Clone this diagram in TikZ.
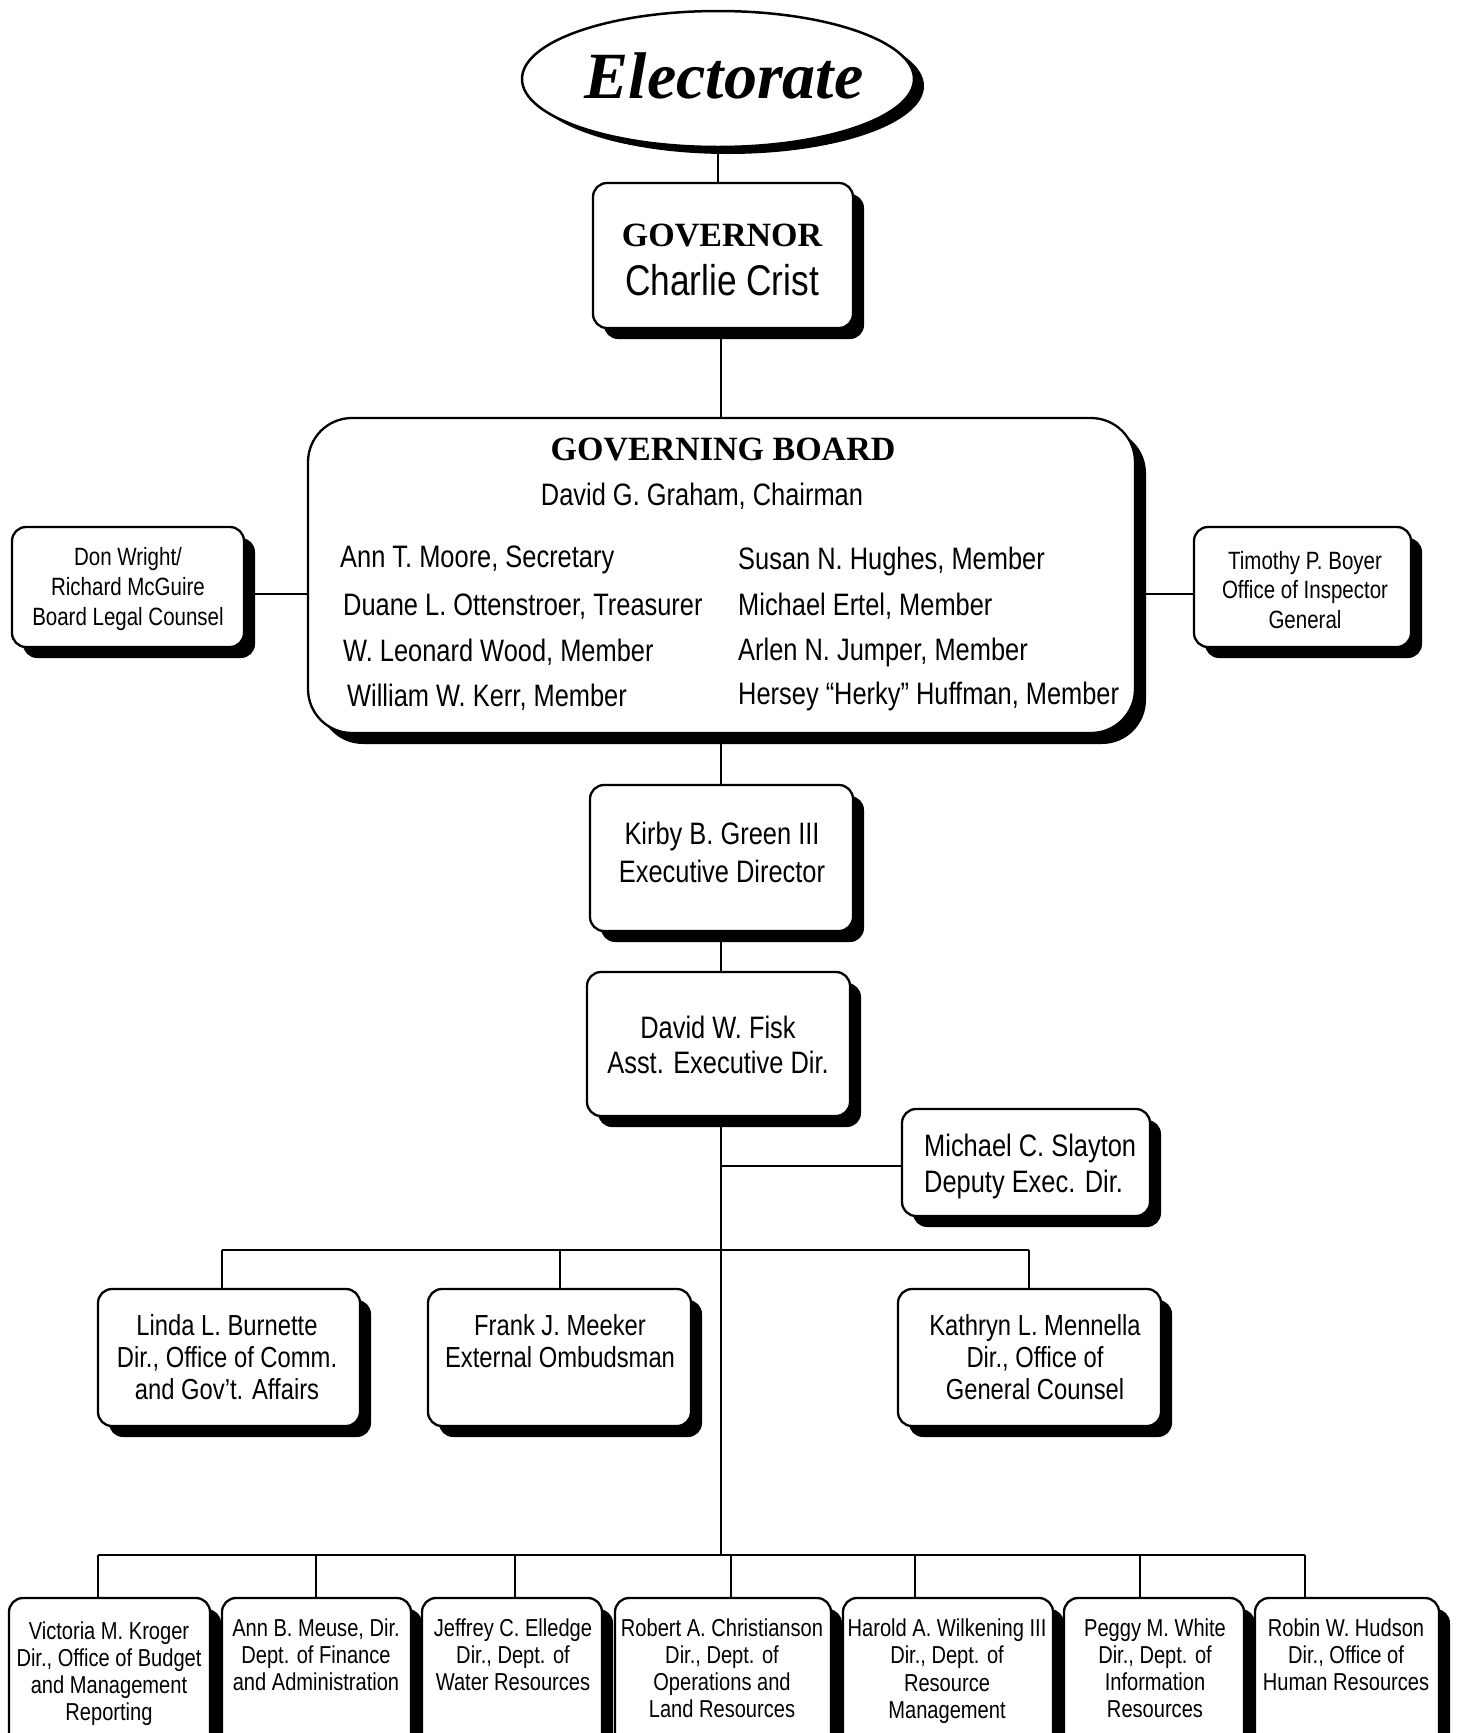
\documentclass[tikz,border=0pt]{standalone}
\usepackage{fontspec}
\setmainfont{Liberation Sans}[FakeStretch=0.82]
\newfontfamily\hdfont{Liberation Serif}
\usetikzlibrary{shapes.geometric,shadows}
\begin{document}
\begin{tikzpicture}[x=1pt,y=-1pt,
  box/.style={draw, line width=2.3pt, fill=white, rounded corners=14pt, inner sep=0pt,
    drop shadow={shadow xshift=11pt,shadow yshift=-11pt,fill=black,opacity=1}},
  conn/.style={line width=2pt},
  txt/.style={align=center, inner sep=0pt, anchor=base},
  ltxt/.style={align=left, inner sep=0pt, anchor=base west},
  fs/.style 2 args={font=\fontsize{#1}{#2}\selectfont}]
\useasboundingbox (0,0) rectangle (1458,1733);
\clip (0,0) rectangle (1458,1733);
\fill[white] (0,0) rectangle (1458,1733);

% Electorate
\node[ellipse, draw, line width=2.5pt, fill=white, minimum width=392pt, minimum height=136pt, inner sep=0pt,
  drop shadow={shadow xshift=10pt,shadow yshift=-7pt,fill=black,opacity=1}] (elect) at (718,79) {};
\node[txt, font=\hdfont\bfseries\itshape\fontsize{66}{70}\selectfont] (electt) at (724,98) {Electorate};

% Governor
\node[box, minimum width=260pt, minimum height=145pt] (gov) at (723,255.5) {};
\node[txt, font=\hdfont\bfseries\fontsize{34}{40}\selectfont] (govt) at (722,246) {GOVERNOR};
\node[txt, fs={43}{50}] (govn) at (722,295) {Charlie Crist};

% Governing board
\node[box, rounded corners=44pt, minimum width=827pt, minimum height=315pt] (board) at (721.5,575.5) {};
\node[txt, font=\hdfont\bfseries\fontsize{34}{40}\selectfont] (boardt) at (723,460) {GOVERNING BOARD};
\node[txt, fs={31}{38}] (chair) at (702,505) {David G. Graham, Chairman};
\node[ltxt, fs={31}{38}] (m1) at (340,567) {Ann T. Moore, Secretary};
\node[ltxt, fs={31}{38}] (m2) at (343,615) {Duane L. Ottenstroer, Treasurer};
\node[ltxt, fs={31}{38}] (m3) at (343,661) {W. Leonard Wood, Member};
\node[ltxt, fs={31}{38}] (m4) at (347,706) {William W. Kerr, Member};
\node[ltxt, fs={31}{38}] (m5) at (738,569) {Susan N. Hughes, Member};
\node[ltxt, fs={31}{38}] (m6) at (738,615) {Michael Ertel, Member};
\node[ltxt, fs={31}{38}] (m7) at (738,660) {Arlen N. Jumper, Member};
\node[ltxt, fs={31}{38}] (m8) at (738,704) {Hersey “Herky” Huffman, Member};

% Side boxes
\node[box, minimum width=232pt, minimum height=120pt] (legal) at (128,587) {};
\node[txt, fs={25}{30}] (legalt) at (128,625) {Don Wright/\\Richard McGuire\\Board Legal Counsel};
\node[box, minimum width=217pt, minimum height=120pt] (ig) at (1302.5,587) {};
\node[txt, fs={25}{29.5}] (igt) at (1305,628) {Timothy P. Boyer\\Office of Inspector\\General};

% Executive chain
\node[box, minimum width=263pt, minimum height=146pt] (kirby) at (721.5,858) {};
\node[txt, fs={31}{38}] (kirbyt) at (722,882) {Kirby B. Green III\\Executive Director};
\node[box, minimum width=263pt, minimum height=144pt] (fisk) at (718.5,1044) {};
\node[txt, fs={31}{35}] (fiskt) at (718,1073) {David W. Fisk\\Asst. Executive Dir.};
\node[box, minimum width=248pt, minimum height=107pt] (slay) at (1026,1162.5) {};
\node[ltxt, fs={31}{36}] (slayt) at (924,1192) {Michael C. Slayton\\Deputy Exec. Dir.};

% Middle row
\node[box, minimum width=262pt, minimum height=137pt] (linda) at (229,1357.5) {};
\node[txt, fs={29}{32}] (lindat) at (227,1399) {Linda L. Burnette\\Dir., Office of Comm.\\and Gov't. Affairs};
\node[box, minimum width=263pt, minimum height=137pt] (frank) at (559.5,1357.5) {};
\node[txt, fs={29}{32}] (frankt) at (560,1367) {Frank J. Meeker\\External Ombudsman};
\node[box, minimum width=263pt, minimum height=137pt] (kath) at (1029.5,1357.5) {};
\node[txt, fs={29}{32}] (katht) at (1035,1399) {Kathryn L. Mennella\\Dir., Office of\\General Counsel};

% Bottom row
\node[box, minimum width=201pt, minimum height=170pt] (b1) at (109.5,1683) {};
\node[txt, fs={24.5}{27}] (b1t) at (109,1720) {Victoria M. Kroger\\Dir., Office of Budget\\and Management\\Reporting};
\node[box, minimum width=189pt, minimum height=170pt] (b2) at (316.5,1683) {};
\node[txt, fs={24.5}{27}] (b2t) at (316,1690) {Ann B. Meuse, Dir.\\Dept. of Finance\\and Administration};
\node[box, minimum width=180pt, minimum height=170pt] (b3) at (512,1683) {};
\node[txt, fs={24.5}{27}] (b3t) at (513,1690) {Jeffrey C. Elledge\\Dir., Dept. of\\Water Resources};
\node[box, minimum width=216pt, minimum height=170pt] (b4) at (723,1683) {};
\node[txt, fs={24.5}{27}] (b4t) at (722,1717) {Robert A. Christianson\\Dir., Dept. of\\Operations and\\Land Resources};
\node[box, minimum width=210pt, minimum height=170pt] (b5) at (948,1683) {};
\node[txt, fs={24.5}{27.5}] (b5t) at (947,1718.5) {Harold A. Wilkening III\\Dir., Dept. of\\Resource\\Management};
\node[box, minimum width=180pt, minimum height=170pt] (b6) at (1154,1683) {};
\node[txt, fs={24.5}{27}] (b6t) at (1155,1717) {Peggy M. White\\Dir., Dept. of\\Information\\Resources};
\node[box, minimum width=184pt, minimum height=170pt] (b7) at (1347,1683) {};
\node[txt, fs={24.5}{27}] (b7t) at (1346,1690) {Robin W. Hudson\\Dir., Office of\\Human Resources};

% Connectors
\coordinate (sp0) at (721,1116);
\coordinate (sp1) at (721,1166);
\coordinate (sp2) at (721,1250);
\coordinate (sp3) at (721,1555);
\coordinate (lc) at (0,594);
\draw[conn] (elect.south) -- (elect.south |- gov.north);
\draw[conn] (sp0 |- gov.south) -- (sp0 |- board.north);
\draw[conn] (legal.east |- lc) -- (board.west |- lc);
\draw[conn] (ig.west |- lc) -- (board.east |- lc);
\draw[conn] (sp0 |- board.south) -- (sp0 |- kirby.north);
\draw[conn] (sp0 |- kirby.south) -- (sp0 |- fisk.north);
\draw[conn] (sp0 |- fisk.south) -- (sp3);
\draw[conn] (sp1) -- (slay.west |- sp1);
\coordinate (m1j) at (222,1250);
\coordinate (m2j) at (560,1250);
\coordinate (m3j) at (1029,1250);
\draw[conn] (m1j) -- (m3j);
\draw[conn] (m1j) -- (m1j |- linda.north);
\draw[conn] (m2j) -- (m2j |- frank.north);
\draw[conn] (m3j) -- (m3j |- kath.north);
\coordinate (j1) at (98,1555);
\coordinate (j2) at (316,1555);
\coordinate (j3) at (515,1555);
\coordinate (j4) at (731,1555);
\coordinate (j5) at (915,1555);
\coordinate (j6) at (1140,1555);
\coordinate (j7) at (1305,1555);
\draw[conn] (j1) -- (j7);
\draw[conn] (j1) -- (j1 |- b1.north);
\draw[conn] (j2) -- (j2 |- b2.north);
\draw[conn] (j3) -- (j3 |- b3.north);
\draw[conn] (j4) -- (j4 |- b4.north);
\draw[conn] (j5) -- (j5 |- b5.north);
\draw[conn] (j6) -- (j6 |- b6.north);
\draw[conn] (j7) -- (j7 |- b7.north);
\end{tikzpicture}
\end{document}
